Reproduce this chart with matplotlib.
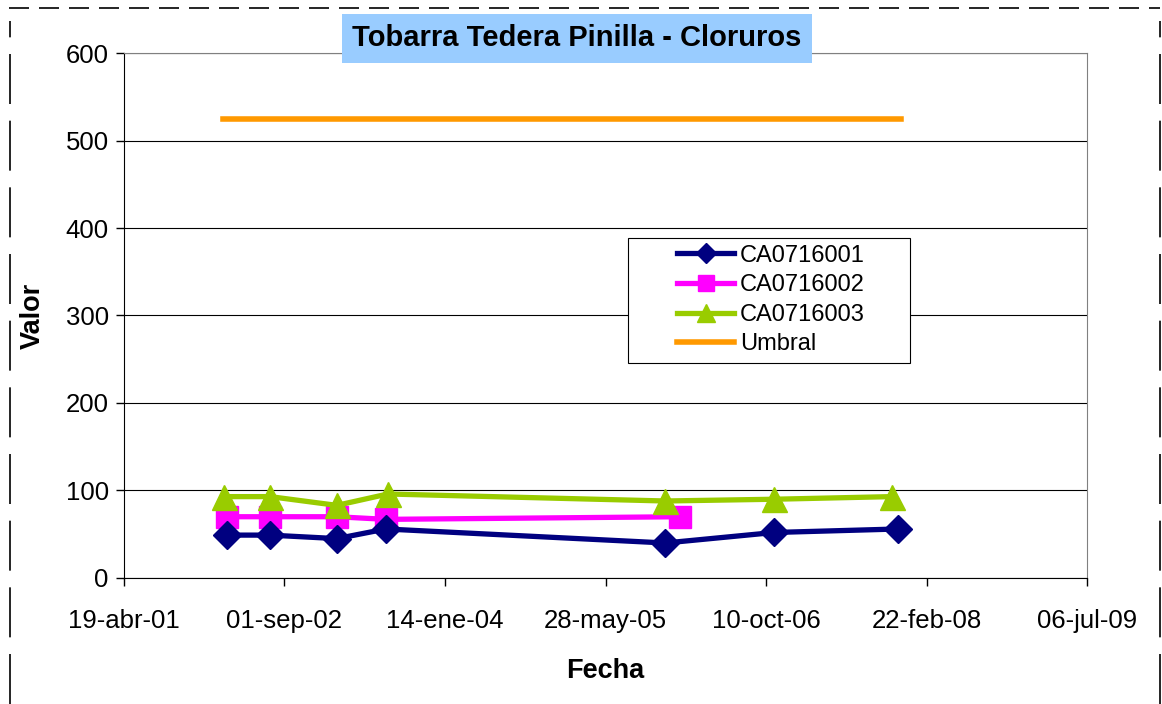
import datetime as dt
import matplotlib
matplotlib.use("Agg")
import matplotlib.pyplot as plt
import matplotlib.dates as mdates
from matplotlib.lines import Line2D
from matplotlib.patches import Rectangle

plt.rcParams['font.family'] = ['Liberation Sans', 'DejaVu Sans']

# data
d1 = ["2002-03-06", "2002-07-18", "2003-02-11", "2003-07-14", "2005-11-30", "2006-11-04", "2007-11-25"]
v1 = [49, 49, 45, 56, 40, 52, 56]
d2 = ["2002-03-06", "2002-07-18", "2003-02-11", "2003-07-14", "2006-01-15"]
v2 = [70, 70, 70, 67, 70]
d3 = ["2002-02-25", "2002-07-18", "2003-02-11", "2003-07-20", "2005-11-30", "2006-11-04", "2007-11-05"]
v3 = [93, 93, 83, 96, 88, 90, 93]
d_umbral = ["2002-02-20", "2007-12-05"]
v_umbral = [525, 525]

tick_dates = ["2001-04-19", "2002-09-01", "2004-01-14", "2005-05-28", "2006-10-10", "2008-02-22", "2009-07-06"]
tick_labels = ["19-abr-01", "01-sep-02", "14-ene-04", "28-may-05", "10-oct-06", "22-feb-08", "06-jul-09"]

def to_dates(lst):
    return [dt.datetime.strptime(s, "%Y-%m-%d") for s in lst]

fig = plt.figure(figsize=(11.62, 7.04), dpi=100)
ax = fig.add_axes([0.1067, 0.179, 0.8288, 0.7457])

ax.plot(to_dates(d1), v1, color="#000080", lw=3.8, marker="D", ms=14, label="CA0716001", zorder=4)
ax.plot(to_dates(d2), v2, color="#FF00FF", lw=3.8, marker="s", ms=16, label="CA0716002", zorder=3)
ax.plot(to_dates(d3), v3, color="#99CC00", lw=3.8, marker="^", ms=18, label="CA0716003", zorder=5)
ax.plot(to_dates(d_umbral), v_umbral, color="#FF9900", lw=4, label="Umbral", zorder=2)

td = to_dates(tick_dates)
ax.set_xlim(mdates.date2num(td[0]), mdates.date2num(td[-1]))
ax.set_xticks(mdates.date2num(td))
ax.set_xticklabels(tick_labels)
ax.set_ylim(0, 600)
ax.set_yticks(range(0, 601, 100))
ax.yaxis.grid(True, color="black", lw=0.8)
ax.set_axisbelow(True)
ax.tick_params(labelsize=18.5, length=6, direction="out", width=1)
ax.tick_params(axis="x", pad=16)
ax.tick_params(axis="y", pad=5)
for s in ["top", "right"]:
    ax.spines[s].set_color("#808080")
for s in ["left", "bottom"]:
    ax.spines[s].set_color("black")

ax.set_xlabel("Fecha", fontsize=19.5, fontweight="bold", labelpad=18)
ax.set_ylabel("Valor", fontsize=19.5, fontweight="bold", labelpad=14)

fig.text(0.4966, 0.946, "Tobarra Tedera Pinilla - Cloruros", fontsize=21, fontweight="bold",
         ha="center", va="center",
         bbox=dict(boxstyle="square,pad=0.36", facecolor="#99CCFF", edgecolor="none"))

# legend box drawn separately so it can be wider than its content
box = Rectangle((628 / 1162, 1 - 363 / 704), 282 / 1162, 125 / 704,
                transform=fig.transFigure, facecolor="white",
                edgecolor="black", lw=0.8, zorder=6, clip_on=False)
ax.add_artist(box)
leg = ax.legend(loc="center", bbox_to_anchor=(771 / 1162, 1 - 300 / 704),
                bbox_transform=fig.transFigure, fontsize=17, frameon=False,
                labelspacing=0.32, handlelength=2.4, handletextpad=0.25, borderpad=0)
leg.set_zorder(7)
for h in leg.legend_handles:
    h.set_markersize(h.get_markersize() * 0.75)

# dashed outer border
fig.add_artist(Line2D([0.008, 0.998], [0.988, 0.988], transform=fig.transFigure,
                      color="black", lw=1.2, ls=(0, (12, 6))))
fig.add_artist(Line2D([0.009, 0.009], [0.0, 0.97], transform=fig.transFigure,
                      color="black", lw=1.2, ls=(0, (30, 10))))
fig.add_artist(Line2D([0.998, 0.998], [0.0, 0.97], transform=fig.transFigure,
                      color="black", lw=1.2, ls=(0, (30, 10))))

fig.savefig("out.png", dpi=100)
